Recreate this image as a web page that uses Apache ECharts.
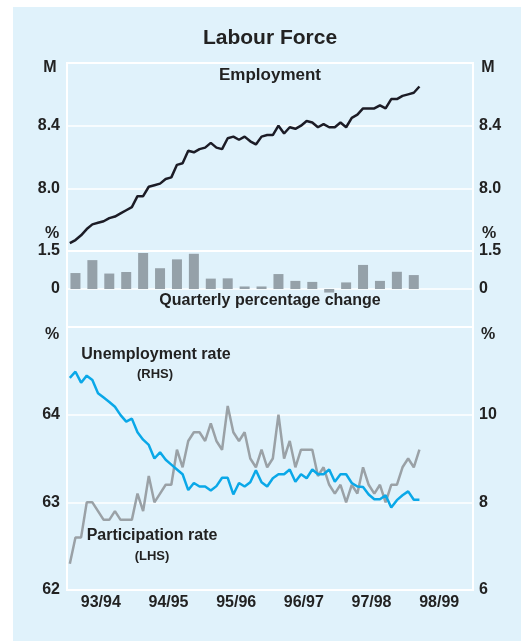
<!DOCTYPE html>
<html>
<head>
<meta charset="utf-8">
<title>Labour Force</title>
<script src="https://cdn.jsdelivr.net/npm/echarts@6/dist/echarts.min.js"></script>
<style>
  body { margin: 0; background: #fff; }
  #bg { position: absolute; left: 13px; top: 7px; width: 508px; height: 634px; background: #e0f2fb; }
  #chart { position: absolute; left: 0; top: 0; width: 521px; height: 641px; }
</style>
</head>
<body>
<div id="bg"></div>
<div id="chart"></div>
<script>
  // monthly data Jul 1993 - Sep 1998, quarterly bars Sep qtr 1993 - Sep qtr 1998
  const years = ['93/94', '94/95', '95/96', '96/97', '97/98', '98/99']
  const employment = [7.65, 7.67, 7.70, 7.74, 7.77, 7.78, 7.79, 7.81, 7.82, 7.84,
    7.86, 7.88, 7.95, 7.95, 8.01, 8.02, 8.03, 8.06, 8.07, 8.15,
    8.16, 8.24, 8.23, 8.25, 8.26, 8.29, 8.26, 8.25, 8.32, 8.33,
    8.31, 8.33, 8.30, 8.28, 8.33, 8.34, 8.34, 8.40, 8.35, 8.39,
    8.38, 8.40, 8.43, 8.42, 8.39, 8.41, 8.39, 8.39, 8.42, 8.39,
    8.45, 8.47, 8.51, 8.51, 8.51, 8.53, 8.51, 8.57, 8.57, 8.59,
    8.60, 8.61, 8.65]
  const quarterlyChange = [0.63, 1.14, 0.61, 0.67, 1.42, 0.82, 1.17, 1.39, 0.41, 0.42,
    0.10, 0.10, 0.59, 0.32, 0.28, -0.14, 0.26, 0.95, 0.32, 0.68, 0.55]
  const unemployment = [10.84, 10.98, 10.73, 10.89, 10.79, 10.49, 10.39, 10.29, 10.18, 9.99,
    9.84, 9.91, 9.60, 9.43, 9.31, 9.00, 9.14, 8.97, 8.86, 8.75,
    8.64, 8.28, 8.44, 8.36, 8.36, 8.27, 8.37, 8.56, 8.56, 8.18,
    8.44, 8.36, 8.46, 8.73, 8.46, 8.36, 8.55, 8.64, 8.64, 8.75,
    8.47, 8.64, 8.55, 8.75, 8.64, 8.64, 8.75, 8.47, 8.64, 8.64,
    8.44, 8.36, 8.35, 8.18, 8.07, 8.07, 8.16, 7.88, 8.05, 8.16,
    8.25, 8.06, 8.06]
  const participation = [62.3, 62.6, 62.6, 63.0, 63.0, 62.9, 62.8, 62.8, 62.9, 62.8,
    62.8, 62.8, 63.1, 62.9, 63.3, 63.0, 63.1, 63.2, 63.2, 63.6,
    63.4, 63.7, 63.8, 63.8, 63.7, 63.9, 63.7, 63.6, 64.1, 63.8,
    63.7, 63.8, 63.5, 63.4, 63.6, 63.4, 63.5, 64.0, 63.5, 63.7,
    63.4, 63.6, 63.6, 63.6, 63.3, 63.4, 63.2, 63.1, 63.2, 63.0,
    63.2, 63.1, 63.4, 63.2, 63.1, 63.2, 63.0, 63.2, 63.2, 63.4,
    63.5, 63.4, 63.6]

  // category slots for the hidden axes (6 financial years)
  const monthNames = ['Jul', 'Aug', 'Sep', 'Oct', 'Nov', 'Dec', 'Jan', 'Feb', 'Mar', 'Apr', 'May', 'Jun']
  const months = []
  const quarters = []
  years.forEach(y => {
    monthNames.forEach(m => months.push(m + ' ' + y))
    ;['Sep', 'Dec', 'Mar', 'Jun'].forEach(q => quarters.push(q + ' ' + y))
  })

  const FONT = '"Liberation Sans", Arial, sans-serif'
  const TXT = '#222'
  const WHITE = '#fff'

  const lbl = (margin, fmt) => ({
    color: TXT, fontFamily: FONT, fontWeight: 'bold', fontSize: 16, margin: margin, formatter: fmt
  })
  const yAx = (grid, pos, min, max, interval, fmt, split) => ({
    type: 'value', gridIndex: grid, position: pos, min: min, max: max, interval: interval,
    axisLine: { show: false }, axisTick: { show: false },
    axisLabel: lbl(pos === 'left' ? 7 : 6, fmt),
    splitLine: { show: split, lineStyle: { color: WHITE, width: 1.5 } }
  })
  const gridBox = (top, height) => ({
    left: 67, right: 48, top: top, height: height,
    show: true, borderColor: WHITE, borderWidth: 2, backgroundColor: 'transparent'
  })
  const txt = (text, x, y, size, align) => ({
    type: 'text', x: x, y: y,
    style: {
      text: text, fill: TXT, font: 'bold ' + size + 'px ' + FONT,
      align: align || 'center', verticalAlign: 'middle',
      textAlign: align || 'center', textVerticalAlign: 'middle'
    }
  })

  const empFmt = v => (v > 7.7 && v < 8.7) ? v.toFixed(1) : ''
  const chgFmt = v => v < -1 ? '' : (v === 0 ? '0' : v.toFixed(1))
  const lhsFmt = v => v > 64.5 ? '' : String(v)
  const rhsFmt = v => v > 11 ? '' : String(v)

  const chart = echarts.init(document.getElementById('chart'))
  chart.setOption({
    animation: false,
    grid: [gridBox(63, 188), gridBox(251, 76), gridBox(327, 263)],
    xAxis: [
      { type: 'category', gridIndex: 0, data: months, show: false },
      { type: 'category', gridIndex: 1, data: quarters, show: false },
      { type: 'category', gridIndex: 2, data: months, show: false },
      {
        type: 'category', gridIndex: 2, data: years, position: 'bottom',
        axisLine: { lineStyle: { color: WHITE, width: 2 } },
        axisTick: { inside: true, length: 9, interval: 0, lineStyle: { color: WHITE, width: 2 } },
        axisLabel: lbl(5)
      }
    ],
    yAxis: [
      yAx(0, 'left', 7.6, 8.8, 0.4, empFmt, true),
      yAx(0, 'right', 7.6, 8.8, 0.4, empFmt, false),
      yAx(1, 'left', -1.5, 1.5, 1.5, chgFmt, true),
      yAx(1, 'right', -1.5, 1.5, 1.5, chgFmt, false),
      yAx(2, 'left', 62, 65, 1, lhsFmt, true),
      yAx(2, 'right', 6, 12, 2, rhsFmt, false)
    ],
    graphic: [
      txt('Labour Force', 270, 38, 21),
      txt('Employment', 270, 75, 17),
      txt('Quarterly percentage change', 270, 301, 16),
      txt('Unemployment rate', 156, 355, 16),
      txt('(RHS)', 155, 374, 13),
      txt('Participation rate', 152, 536, 16),
      txt('(LHS)', 152, 556, 13),
      txt('M', 50, 68, 16),
      txt('M', 488, 68, 16),
      txt('%', 52, 234, 16),
      txt('%', 489, 234, 16),
      txt('%', 52, 335, 16),
      txt('%', 488, 335, 16)
    ],
    series: [
      {
        name: 'Employment', type: 'line', xAxisIndex: 0, yAxisIndex: 0, data: employment,
        symbol: 'none', lineStyle: { color: '#1c1c26', width: 2.5 }
      },
      {
        name: 'Quarterly percentage change', type: 'bar', xAxisIndex: 1, yAxisIndex: 2,
        data: quarterlyChange, barWidth: 10, itemStyle: { color: '#95a1a9' }
      },
      {
        name: 'Participation rate', type: 'line', xAxisIndex: 2, yAxisIndex: 4, data: participation,
        symbol: 'none', lineStyle: { color: '#9aa1a6', width: 2.5 }
      },
      {
        name: 'Unemployment rate', type: 'line', xAxisIndex: 2, yAxisIndex: 5, data: unemployment,
        symbol: 'none', lineStyle: { color: '#0aa8e8', width: 2.5 }
      }
    ]
  })
</script>
</body>
</html>
